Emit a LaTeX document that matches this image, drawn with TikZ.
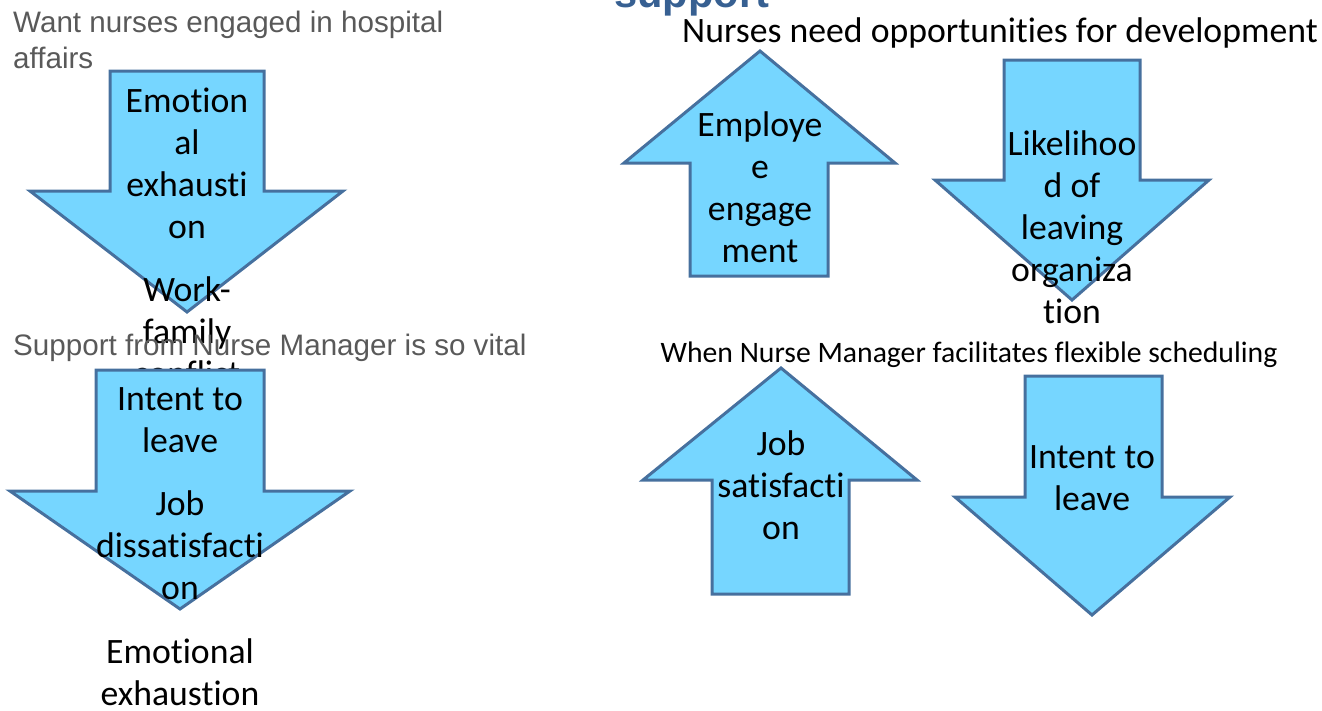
\documentclass[tikz,border=0pt]{standalone}
\usepackage{fontspec}
\setmainfont{Carlito}[Ligatures=NoCommon]
\newfontfamily\arialfont{Liberation Sans}
\definecolor{arrowfill}{RGB}{118,214,255}
\definecolor{arrowline}{RGB}{70,112,158}
\definecolor{graytext}{RGB}{89,89,89}
\definecolor{titleblue}{RGB}{55,96,146}
\tikzset{
  arrowbody/.style={fill=arrowfill, draw=arrowline, line width=3pt, line join=miter},
  lbl/.style={font=\fontsize{35.7}{42}\selectfont, align=center, inner sep=0pt, text=black},
  graylbl/.style={font=\arialfont\fontsize{29.6}{35.5}\selectfont, align=left, inner sep=0pt, text=graytext},
  smalllbl/.style={font=\fontsize{29.7}{35}\selectfont, inner sep=0pt, text=black},
}
\begin{document}
\begin{tikzpicture}[x=1pt, y=-1pt]
\useasboundingbox (0,0) rectangle (1322,710);
% title fragment (clipped at the top)
\node[anchor=base west, inner sep=0pt, text=titleblue, font=\arialfont\bfseries\fontsize{41.6}{50}\selectfont] (supporttitle) at (614,7) {support};

% ---------- left column ----------
\node[graylbl, anchor=north west] (want) at (13,11) {Want nurses engaged in hospital\\affairs};
\draw[arrowbody] (110,71) -- (264,71) -- (264,191) -- (343,191) -- (187,312) -- (30,191) -- (110,191) -- cycle;
\node[lbl] (emo1) at (187,163.5) {Emotion\\al\\exhausti\\on};
\node[lbl] (wfc) at (187,331.5) {Work-\\family\\conflict};
\node[graylbl, anchor=base west] (supportnm) at (13,355) {Support from Nurse Manager is so vital};
\draw[arrowbody] (96,370) -- (264,370) -- (264,491) -- (350,491) -- (180,609) -- (10,491) -- (96,491) -- cycle;
\node[lbl] (intent1) at (180,420.5) {Intent to\\leave};
\node[lbl] (jobdis) at (180,545) {Job\\dissatisfacti\\on};
\node[lbl] (emoex) at (180,672) {Emotional\\exhaustion};

% ---------- right column, top ----------
\node[lbl, anchor=base] (nurses) at (1000,42) {Nurses need opportunities for development};
\draw[arrowbody] (760,51) -- (895,163) -- (828,163) -- (828,276) -- (690,276) -- (690,163) -- (624,163) -- cycle;
\node[lbl] (employee) at (760,187) {Employe\\e\\engage\\ment};
\draw[arrowbody] (1004,60) -- (1140,60) -- (1140,180) -- (1209,180) -- (1072,300) -- (935,180) -- (1004,180) -- cycle;
\node[lbl] (likely) at (1072,227) {Likelihoo\\d of\\leaving\\organiza\\tion};

% ---------- right column, bottom ----------
\node[smalllbl, anchor=base] (when) at (969,362) {When Nurse Manager facilitates flexible scheduling};
\draw[arrowbody] (781,368) -- (917,480) -- (849,480) -- (849,594) -- (712,594) -- (712,480) -- (643,480) -- cycle;
\node[lbl] (jobsat) at (781,485) {Job\\satisfacti\\on};
\draw[arrowbody] (1025,376) -- (1162,376) -- (1162,497) -- (1230,497) -- (1092,615) -- (955,497) -- (1025,497) -- cycle;
\node[lbl] (intent2) at (1092,478) {Intent to\\leave};
\end{tikzpicture}
\end{document}
